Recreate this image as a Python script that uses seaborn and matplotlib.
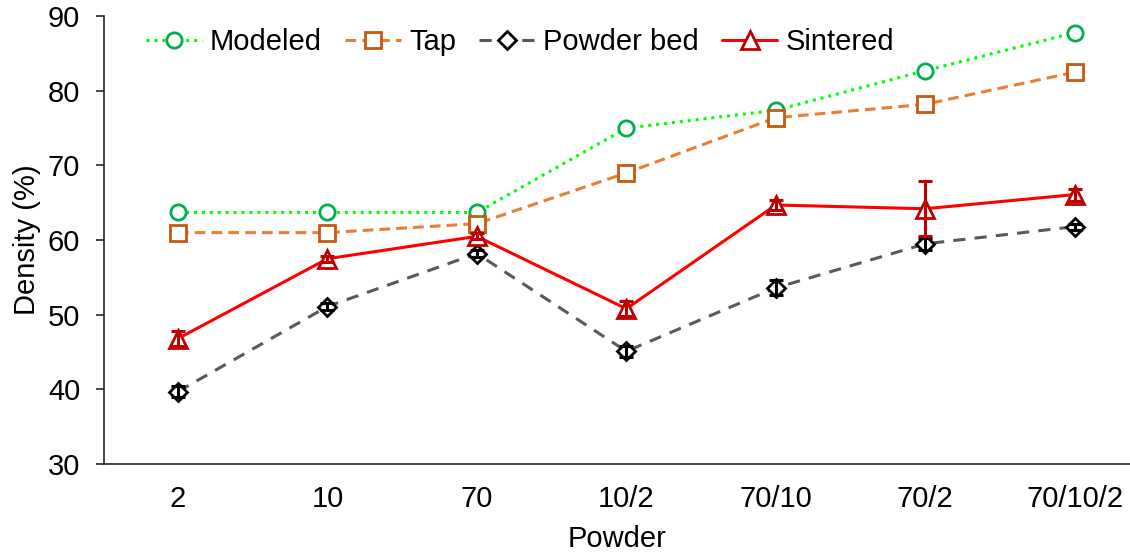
import matplotlib
matplotlib.use("Agg")
import matplotlib.pyplot as plt
import seaborn as sns
import pandas as pd
import numpy as np

powders = ["2", "10", "70", "10/2", "70/10", "70/2", "70/10/2"]
modeled = [63.7, 63.7, 63.7, 75.0, 77.4, 82.7, 87.8]
tap = [61.0, 61.0, 62.2, 69.0, 76.4, 78.2, 82.5]
powder_bed = [39.7, 51.1, 58.2, 45.1, 53.6, 59.5, 61.8]
powder_bed_err = [0.7, 0.5, 0.5, 0.7, 1.0, 0.8, 0.4]
sintered = [46.8, 57.5, 60.5, 50.8, 64.7, 64.2, 66.1]
sintered_err = [1.0, 0.4, 0.4, 1.0, 0.7, 3.7, 0.8]

sns.set_theme(style="white")
plt.rcParams["font.family"] = ["Liberation Sans", "DejaVu Sans"]
plt.rcParams["text.color"] = "black"
plt.rcParams["axes.labelcolor"] = "black"
plt.rcParams["xtick.color"] = "black"
plt.rcParams["ytick.color"] = "black"

FS = 21

fig = plt.figure(figsize=(11.3, 5.59), dpi=100)
ax = fig.add_axes([0.092, 0.170, 0.908, 0.801])

df = pd.DataFrame({
    "Powder": powders * 4,
    "Density": modeled + tap + powder_bed + sintered,
    "Series": (["Modeled"] * 7 + ["Tap"] * 7 + ["Powder bed"] * 7
               + ["Sintered"] * 7),
})

styles = {
    "Modeled": dict(color="#00FF00", ls=(0, (1, 1.6)), lw=2.2, marker="o",
                    mec="#00B050", ms=11),
    "Tap": dict(color="#ED7D31", ls=(0, (3.5, 2)), lw=2.2, marker="s",
                mec="#C55A11", ms=11),
    "Powder bed": dict(color="#595959", ls=(0, (4, 3)), lw=2.2, marker="D",
                       mec="#000000", ms=9),
    "Sintered": dict(color="#FF0000", ls="-", lw=2.2, marker="^",
                     mec="#C00000", ms=12.5),
}

errs = {"Powder bed": (powder_bed, powder_bed_err, "#000000"),
        "Sintered": (sintered, sintered_err, "#C00000")}

xpos = np.arange(len(powders))
for name, st in styles.items():
    sub = df[df["Series"] == name]
    sns.lineplot(data=sub, x="Powder", y="Density", ax=ax, color=st["color"],
                 linestyle=st["ls"], linewidth=st["lw"], marker=st["marker"],
                 markersize=st["ms"], markeredgecolor=st["mec"],
                 markerfacecolor="white", markeredgewidth=2.0, label=name,
                 sort=False, zorder=3)
    if name in errs:
        vals, e, c = errs[name]
        ax.errorbar(xpos, vals, yerr=e, fmt="none", ecolor=c, elinewidth=2.2,
                    capsize=5, capthick=2.2, zorder=4)

ax.set_xlim(-0.495, 6.37)
ax.set_ylim(30, 90)
ax.set_yticks(range(30, 91, 10))
ax.tick_params(axis="y", which="major", left=True, length=6, width=1.2,
               direction="out", labelsize=FS, pad=11, color="#262626")
ax.tick_params(axis="x", bottom=False, labelsize=FS, pad=9)
for s in ["top", "right"]:
    ax.spines[s].set_visible(False)
for s in ["left", "bottom"]:
    ax.spines[s].set_color("#262626")
    ax.spines[s].set_linewidth(1.2)

ax.set_xlabel("Powder", fontsize=FS, labelpad=9)
ax.set_ylabel("Density (%)", fontsize=FS, labelpad=5)

leg = ax.legend(loc="upper left", bbox_to_anchor=(0.03, 1.0), ncol=4,
                frameon=False, fontsize=FS, handlelength=1.9,
                handletextpad=0.28, columnspacing=0.8, borderaxespad=0)

fig.savefig("out.png", dpi=100)
